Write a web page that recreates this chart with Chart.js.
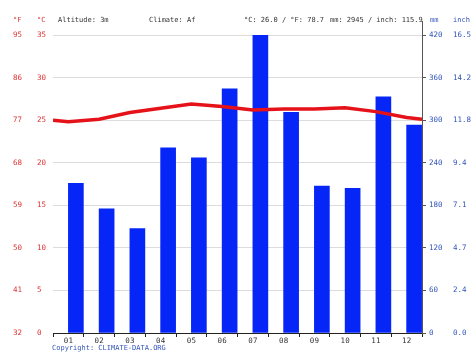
<!DOCTYPE html>
<html>
<head>
<meta charset="utf-8">
<script src="https://cdn.jsdelivr.net/npm/chart.js@4/dist/chart.umd.min.js"></script>
<style>
  html, body { margin: 0; padding: 0; background: #fff; }
  #wrap { position: relative; width: 474px; height: 355px; }
  canvas { position: absolute; left: 0; top: 0; }
  .t { position: absolute; font-family: "DejaVu Sans Mono", monospace; font-size: 7px; color: #333; white-space: nowrap; line-height: 1; }
  .r { color: #d33; }
  .b { color: #35b; }
</style>
</head>
<body>
<div id="wrap">
  <canvas id="c" width="474" height="355"></canvas>
  <div class="t r" style="left:13px;top:17px">°F</div>
  <div class="t r" style="left:37px;top:17px">°C</div>
  <div class="t" style="left:58px;top:17px">Altitude: 3m</div>
  <div class="t" style="left:149px;top:17px">Climate: Af</div>
  <div class="t" style="left:244px;top:17px">°C: 26.0 / °F: 78.7</div>
  <div class="t" style="left:330px;top:17px">mm: 2945 / inch: 115.9</div>
  <div class="t b" style="left:430px;top:17px">mm</div>
  <div class="t b" style="left:453px;top:17px">inch</div>
  <div class="t b" style="left:52px;top:345px">Copyright: CLIMATE-DATA.ORG</div>
</div>
<script>
const months = ["01","02","03","04","05","06","07","08","09","10","11","12"];
const precipMM = [211, 175, 147, 261, 247, 344, 420, 311, 207, 204, 333, 293];
const tempC = [24.8, 25.1, 25.9, 26.4, 26.9, 26.6, 26.2, 26.3, 26.3, 26.45, 26.0, 25.3];
const tempEdgeLeft = 25.0;
const tempEdgeRight = 25.1;

const linePoints = [{x: 0.5, y: tempEdgeLeft}]
  .concat(tempC.map((v, i) => ({x: i + 1, y: v})))
  .concat([{x: 12.5, y: tempEdgeRight}]);

const mono = { family: "DejaVu Sans Mono", size: 7.5 };

const axisExtend = {
  id: 'axisExtend',
  afterDraw(chart) {
    const s = chart.scales.yMM, ctx = chart.ctx;
    ctx.save();
    ctx.strokeStyle = '#555'; ctx.lineWidth = 1;
    ctx.beginPath();
    ctx.moveTo(Math.round(s.left) + 0.5, s.top);
    ctx.lineTo(Math.round(s.left) + 0.5, s.top - 14);
    ctx.stroke();
    ctx.restore();
  }
};

new Chart(document.getElementById('c'), {
  data: {
    labels: months,
    datasets: [
      {
        type: 'line', data: linePoints, xAxisID: 'x2', yAxisID: 'y',
        borderColor: '#e5121a', borderWidth: 3.5, pointRadius: 0, tension: 0, order: 0
      },
      {
        type: 'bar', data: precipMM, xAxisID: 'x', yAxisID: 'yMM',
        backgroundColor: '#0626f8', barThickness: 15, order: 1
      }
    ]
  },
  plugins: [axisExtend],
  options: {
    responsive: false, animation: false,
    layout: { padding: { left: 13, top: 35, right: 3, bottom: 10 } },
    plugins: { legend: { display: false }, tooltip: { enabled: false } },
    scales: {
      x: {
        type: 'category', position: 'bottom', offset: true,
        grid: { offset: true, drawOnChartArea: false, tickLength: 4, color: '#222' },
        border: { display: true, color: '#222', width: 1 },
        ticks: { font: mono, color: '#333', padding: 0, maxRotation: 0 },
        afterFit: s => { s.height = 12; }
      },
      x2: { type: 'linear', display: false, min: 0.5, max: 12.5 },
      y: {
        type: 'linear', position: 'left', min: 0, max: 35, weight: 0,
        ticks: { stepSize: 5, font: mono, color: '#d33', crossAlign: 'far', padding: 0 },
        grid: { color: '#dcdcdc', drawTicks: false }, border: { display: false },
        afterFit: s => { s.width = 16; }
      },
      yF: {
        type: 'linear', position: 'left', min: 0, max: 35, weight: 1,
        ticks: { stepSize: 5, font: mono, color: '#d33', crossAlign: 'far', padding: 0,
                 callback: v => String(Math.round(v * 9 / 5 + 32)) },
        grid: { display: false, drawTicks: false }, border: { display: false },
        afterFit: s => { s.width = 24; }
      },
      yMM: {
        type: 'linear', position: 'right', min: 0, max: 420, weight: 0,
        ticks: { stepSize: 60, font: mono, color: '#35b', padding: 3 },
        grid: { drawOnChartArea: false, tickLength: 4, color: '#555' },
        border: { display: true, color: '#555' },
        afterFit: s => { s.width = 28; }
      },
      yIn: {
        type: 'linear', position: 'right', min: 0, max: 420, weight: 1,
        ticks: { stepSize: 60, font: mono, color: '#35b', padding: 3,
                 callback: v => (v / 25.4).toFixed(1) },
        grid: { display: false, drawTicks: false }, border: { display: false },
        afterFit: s => { s.width = 21; }
      }
    }
  }
});
</script>
</body>
</html>
